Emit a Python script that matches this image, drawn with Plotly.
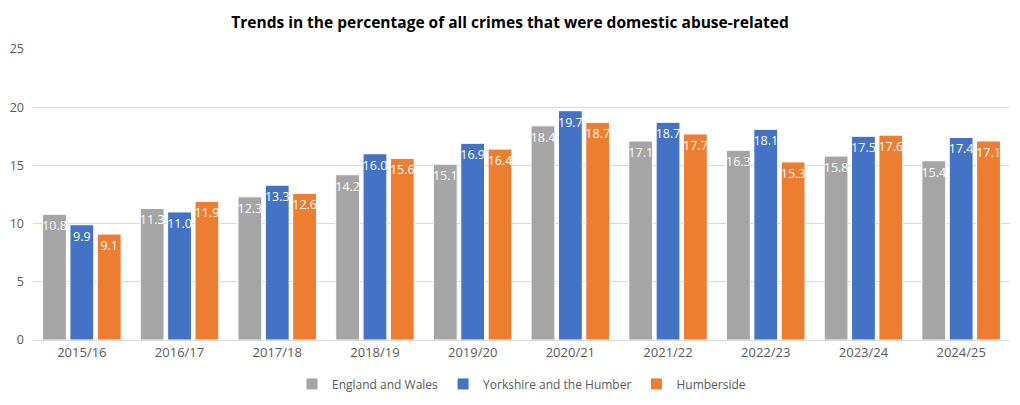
import plotly.graph_objects as go

years = ["2015/16", "2016/17", "2017/18", "2018/19", "2019/20",
         "2020/21", "2021/22", "2022/23", "2023/24", "2024/25"]
england_wales = [10.8, 11.3, 12.3, 14.2, 15.1, 18.4, 17.1, 16.3, 15.8, 15.4]
yorkshire = [9.9, 11.0, 13.3, 16.0, 16.9, 19.7, 18.7, 18.1, 17.5, 17.4]
humberside = [9.1, 11.9, 12.6, 15.6, 16.4, 18.7, 17.7, 15.3, 17.6, 17.1]

series = [
    ("England and Wales", england_wales, "#A5A5A5"),
    ("Yorkshire and the Humber", yorkshire, "#4472C4"),
    ("Humberside", humberside, "#ED7D31"),
]

fig = go.Figure()
for name, vals, color in series:
    fig.add_trace(go.Bar(
        x=years, y=vals, name=name,
        marker=dict(color=color, line=dict(color="white", width=1)),
        text=[f"{v:.1f}" for v in vals],
        textposition="inside", insidetextanchor="end",
        textfont=dict(color="white", size=12.5, family="Open Sans, Liberation Sans, sans-serif"),
        textangle=0, cliponaxis=False,
    ))

fig.update_layout(
    width=1020, height=405,
    margin=dict(l=33, r=10, t=49, b=65, autoexpand=False),
    paper_bgcolor="white", plot_bgcolor="white",
    barmode="group", bargap=0.16, bargroupgap=0.13,
    uniformtext=dict(minsize=11, mode="show"),
    title=dict(text="<b>Trends in the percentage of all crimes that were domestic abuse-related</b>",
               x=0.5, xanchor="center", y=0.945, yanchor="middle",
               font=dict(size=15.5, color="#000000", family="Open Sans, Liberation Sans, sans-serif")),
    font=dict(family="Open Sans, Liberation Sans, sans-serif", color="#595959"),
    yaxis=dict(range=[0, 25], dtick=5, showgrid=True, gridcolor="#D9D9D9", gridwidth=1,
               zeroline=False, showline=False, ticks="", tickfont=dict(size=12.5, color="#595959"),
               ticklabelstandoff=8, automargin=False),
    xaxis=dict(showline=True, linecolor="#D9D9D9", linewidth=1, ticks="",
               tickfont=dict(size=13, color="#595959"), automargin=False),
    legend=dict(orientation="h", x=0.5, xanchor="center", yref="container", y=0.052,
                yanchor="middle", font=dict(size=12, color="#595959"),
                itemwidth=30, traceorder="normal"),
)

fig.write_html("out.html")
